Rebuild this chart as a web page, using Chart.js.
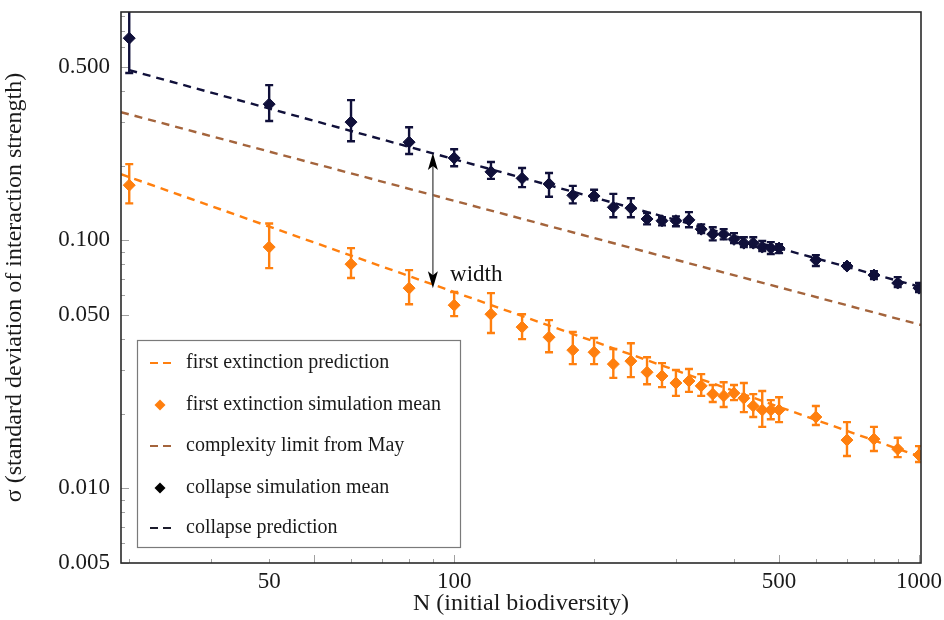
<!DOCTYPE html>
<html>
<head>
<meta charset="utf-8">
<script src="https://cdn.jsdelivr.net/npm/chart.js@4.4.1/dist/chart.umd.min.js"></script>
<style>
  html, body { margin: 0; padding: 0; background: #ffffff; }
  #wrap { width: 944px; height: 620px; }
</style>
</head>
<body>
<div id="wrap"><canvas id="c" width="944" height="620"></canvas></div>
<script>
// ---------- data ----------
const nValues = [20,40,60,80,100,120,140,160,180,200,220,240,260,280,300,320,340,360,380,400,420,440,460,480,500,600,700,800,900,1000];

const collapseMean = [0.654,0.3545,0.300,0.249,0.215,0.189,0.178,0.169,0.152,0.151,0.136,0.135,0.122,0.120,0.120,0.121,0.111,0.106,0.106,0.101,0.0975,0.0975,0.094,0.0931,0.0931,0.0833,0.0788,0.0725,0.0673,0.0642];
const collapseLow  = [0.473,0.303,0.251,0.223,0.199,0.177,0.164,0.150,0.141,0.145,0.124,0.124,0.116,0.115,0.114,0.113,0.107,0.100,0.101,0.0975,0.094,0.094,0.0906,0.0881,0.0889,0.0788,0.0773,0.0698,0.0648,0.0619];
const collapseHigh = [0.906,0.423,0.368,0.286,0.233,0.207,0.196,0.187,0.166,0.160,0.154,0.148,0.129,0.124,0.125,0.130,0.116,0.113,0.111,0.107,0.103,0.103,0.0994,0.0984,0.0966,0.0872,0.0810,0.0752,0.0711,0.0673];

const firstMean = [0.167,0.0940,0.0802,0.0642,0.0548,0.0504,0.0447,0.0407,0.0361,0.0354,0.0317,0.0326,0.0294,0.0284,0.0266,0.0271,0.0259,0.0240,0.0236,0.0242,0.0231,0.0215,0.0207,0.0207,0.0207,0.0194,0.01566,0.0158,0.0144,0.01363];
const firstLow  = [0.141,0.0773,0.0705,0.0553,0.0495,0.0423,0.0400,0.0354,0.0317,0.0317,0.0279,0.0281,0.0263,0.0256,0.0236,0.0245,0.0236,0.0223,0.0213,0.0227,0.0203,0.0194,0.0177,0.0190,0.0185,0.0180,0.0135,0.01414,0.01337,0.01277];
const firstHigh = [0.203,0.117,0.0931,0.0759,0.0619,0.0613,0.0504,0.0477,0.0427,0.0404,0.0365,0.0385,0.0338,0.0320,0.0300,0.0303,0.0289,0.0261,0.0268,0.0261,0.0266,0.0240,0.0247,0.0227,0.0233,0.0215,0.0185,0.0177,0.0160,0.0148];

// prediction lines (end points)
const firstPredN = [19.2, 1010];
const firstPred  = [0.185, 0.01337];
const mayLimitN  = [19.2, 1010];
const mayLimit   = [0.329, 0.0456];
const collapsePredN = [20, 1010];
const collapsePred  = [0.486, 0.0648];

// "width" annotation
const arrowN = 90;
const arrowTop = 0.225;
const arrowBottom = 0.0642;
const widthLabelN = 98;
const widthLabelY = 0.0725;

// ticks
const xTickValues = [40, 100, 500, 1000];
const xTickLabels = ['50', '100', '500', '1000'];
const xMinorTicks = [20,30,40,60,70,80,90,200,300,400,600,700,800,900];
const xMajorTicks = [50,100,500,1000];
const yTickValues = [0.005, 0.01, 0.05, 0.1, 0.5];
const yTickLabels = ['0.005', '0.010', '0.050', '0.100', '0.500'];
const yMinorTicks = [0.006,0.007,0.008,0.009,0.02,0.03,0.04,0.06,0.07,0.08,0.09,0.2,0.3,0.4,0.6,0.7,0.8];

const legendLabels = ['first extinction prediction','first extinction simulation mean','complexity limit from May','collapse simulation mean','collapse prediction'];

// ---------- styling ----------
const ORANGE = '#ff7f0e';
const NAVY = '#10103a';
const BROWN = '#a4643c';
const SERIF = '"Liberation Serif", "DejaVu Serif", serif';

const pts = (xs, ys) => xs.map((v, i) => ({x: v, y: ys[i]}));

const overlay = {
  id: 'overlay',
  beforeDatasetsDraw(chart) {
    const {ctx, chartArea: a, scales: {x, y}} = chart;
    ctx.save();
    ctx.strokeStyle = '#a0a0a0';
    ctx.lineWidth = 1;
    const yt = (v, len) => { const p = Math.round(y.getPixelForValue(v)) + 0.5; ctx.beginPath(); ctx.moveTo(a.left, p); ctx.lineTo(a.left + len, p); ctx.stroke(); };
    yMinorTicks.forEach(v => yt(v, 4));
    yTickValues.forEach(v => yt(v, 8));
    const xt = (v, len) => { const p = Math.round(x.getPixelForValue(v)) + 0.5; ctx.beginPath(); ctx.moveTo(p, a.bottom); ctx.lineTo(p, a.bottom - len); ctx.stroke(); };
    xMinorTicks.forEach(v => xt(v, 4));
    xMajorTicks.forEach(v => xt(v, 8));
    ctx.restore();
  },
  afterDatasetsDraw(chart) {
    const {ctx, chartArea: a, scales: {x, y}} = chart;
    ctx.save();
    ctx.beginPath();
    ctx.rect(a.left, a.top, a.right - a.left, a.bottom - a.top);
    ctx.clip();
    const bars = (lo, hi, color) => {
      ctx.strokeStyle = color;
      ctx.lineWidth = 2.4;
      nValues.forEach((n, i) => {
        const px = x.getPixelForValue(n);
        const y1 = y.getPixelForValue(hi[i]);
        const y2 = y.getPixelForValue(lo[i]);
        ctx.beginPath();
        ctx.moveTo(px, y1); ctx.lineTo(px, y2);
        ctx.moveTo(px - 4, y1); ctx.lineTo(px + 4, y1);
        ctx.moveTo(px - 4, y2); ctx.lineTo(px + 4, y2);
        ctx.stroke();
      });
    };
    bars(firstLow, firstHigh, ORANGE);
    bars(collapseLow, collapseHigh, NAVY);

    // width arrow
    const ax = x.getPixelForValue(arrowN);
    const t = y.getPixelForValue(arrowTop);
    const b = y.getPixelForValue(arrowBottom);
    ctx.strokeStyle = '#6a6a6a';
    ctx.lineWidth = 1.6;
    ctx.beginPath(); ctx.moveTo(ax, t + 10); ctx.lineTo(ax, b - 10); ctx.stroke();
    ctx.fillStyle = '#000';
    ctx.beginPath(); ctx.moveTo(ax, t); ctx.lineTo(ax - 5, t + 17); ctx.lineTo(ax, t + 13); ctx.lineTo(ax + 5, t + 17); ctx.closePath(); ctx.fill();
    ctx.beginPath(); ctx.moveTo(ax, b); ctx.lineTo(ax - 5, b - 17); ctx.lineTo(ax, b - 13); ctx.lineTo(ax + 5, b - 17); ctx.closePath(); ctx.fill();
    ctx.fillStyle = '#111';
    ctx.font = '23px ' + SERIF;
    ctx.textBaseline = 'middle';
    ctx.textAlign = 'left';
    ctx.fillText('width', x.getPixelForValue(widthLabelN), y.getPixelForValue(widthLabelY));
    ctx.restore();
  },
  afterDraw(chart) {
    const {ctx, chartArea: a} = chart;
    ctx.save();
    ctx.strokeStyle = '#2a2a2a';
    ctx.lineWidth = 1.6;
    ctx.strokeRect(a.left, a.top, a.right - a.left, a.bottom - a.top);
    const L = {x: 137.5, y: 340.5, w: 323, h: 207};
    ctx.fillStyle = '#ffffff';
    ctx.fillRect(L.x, L.y, L.w, L.h);
    ctx.strokeStyle = '#7a7a7a';
    ctx.lineWidth = 1.2;
    ctx.strokeRect(L.x, L.y, L.w, L.h);
    const rows = [363, 405, 446, 488, 528];
    const sym = [
      {type: 'dash', color: ORANGE},
      {type: 'diamond', color: ORANGE},
      {type: 'dash', color: BROWN},
      {type: 'diamond', color: '#000'},
      {type: 'dash', color: '#1c1c2c'}
    ];
    rows.forEach((ry, i) => {
      const s = sym[i];
      if (s.type === 'dash') {
        ctx.strokeStyle = s.color;
        ctx.lineWidth = 2;
        ctx.setLineDash([8, 5]);
        ctx.beginPath(); ctx.moveTo(150, ry); ctx.lineTo(171, ry); ctx.stroke();
        ctx.setLineDash([]);
      } else {
        ctx.fillStyle = s.color;
        ctx.beginPath(); ctx.moveTo(160, ry - 5.5); ctx.lineTo(165.5, ry); ctx.lineTo(160, ry + 5.5); ctx.lineTo(154.5, ry); ctx.closePath(); ctx.fill();
      }
      ctx.fillStyle = '#1a1a1a';
      ctx.font = '20px ' + SERIF;
      ctx.textBaseline = 'middle';
      ctx.textAlign = 'left';
      ctx.fillText(legendLabels[i], 186, ry);
    });
    ctx.restore();
  }
};

new Chart(document.getElementById('c'), {
  type: 'scatter',
  data: {
    datasets: [
      {
        label: legendLabels[0], type: 'line', data: pts(firstPredN, firstPred),
        borderColor: ORANGE, borderWidth: 2.4, borderDash: [8, 6], pointRadius: 0, fill: false, order: 5
      },
      {
        label: legendLabels[2], type: 'line', data: pts(mayLimitN, mayLimit),
        borderColor: BROWN, borderWidth: 2.4, borderDash: [8, 6], pointRadius: 0, fill: false, order: 5
      },
      {
        label: legendLabels[4], type: 'line', data: pts(collapsePredN, collapsePred),
        borderColor: NAVY, borderWidth: 2.4, borderDash: [8, 6], pointRadius: 0, fill: false, order: 5
      },
      {
        label: legendLabels[1], data: pts(nValues, firstMean),
        pointStyle: 'rectRot', pointRadius: 6, backgroundColor: ORANGE, borderColor: ORANGE, borderWidth: 1, order: 1
      },
      {
        label: legendLabels[3], data: pts(nValues, collapseMean),
        pointStyle: 'rectRot', pointRadius: 6, backgroundColor: NAVY, borderColor: NAVY, borderWidth: 1, order: 1
      }
    ]
  },
  options: {
    responsive: false,
    animation: false,
    layout: { padding: { top: 12, right: 23, left: 0, bottom: 0 } },
    plugins: { legend: { display: false }, tooltip: { enabled: false } },
    scales: {
      x: {
        type: 'logarithmic', min: 19.2, max: 1010,
        grid: { display: false, drawTicks: false },
        border: { display: false },
        afterBuildTicks: s => { s.ticks = xTickValues.map(v => ({value: v})); },
        afterFit: s => { s.height = 57; s.paddingLeft = 0; s.paddingRight = 0; },
        ticks: {
          autoSkip: false, maxRotation: 0, padding: 5, color: '#1a1a1a',
          font: { family: SERIF, size: 23 },
          callback: (v, i) => xTickLabels[i]
        },
        title: { display: true, text: 'N (initial biodiversity)', color: '#1a1a1a', font: { family: SERIF, size: 24 }, padding: { top: 0, bottom: 2 } }
      },
      y: {
        type: 'logarithmic', min: 0.005, max: 0.834,
        grid: { display: false, drawTicks: false },
        border: { display: false },
        afterBuildTicks: s => { s.ticks = yTickValues.map(v => ({value: v})); },
        afterFit: s => { s.width = 121; s.paddingTop = 0; s.paddingBottom = 0; },
        ticks: {
          autoSkip: false, padding: 11, color: '#1a1a1a',
          font: { family: SERIF, size: 23 },
          callback: (v, i) => yTickLabels[i]
        },
        title: { display: true, text: 'σ (standard deviation of interaction strength)', color: '#1a1a1a', font: { family: SERIF, size: 24 }, padding: { top: 0, bottom: 0 } }
      }
    }
  },
  plugins: [overlay]
});
</script>
</body>
</html>
